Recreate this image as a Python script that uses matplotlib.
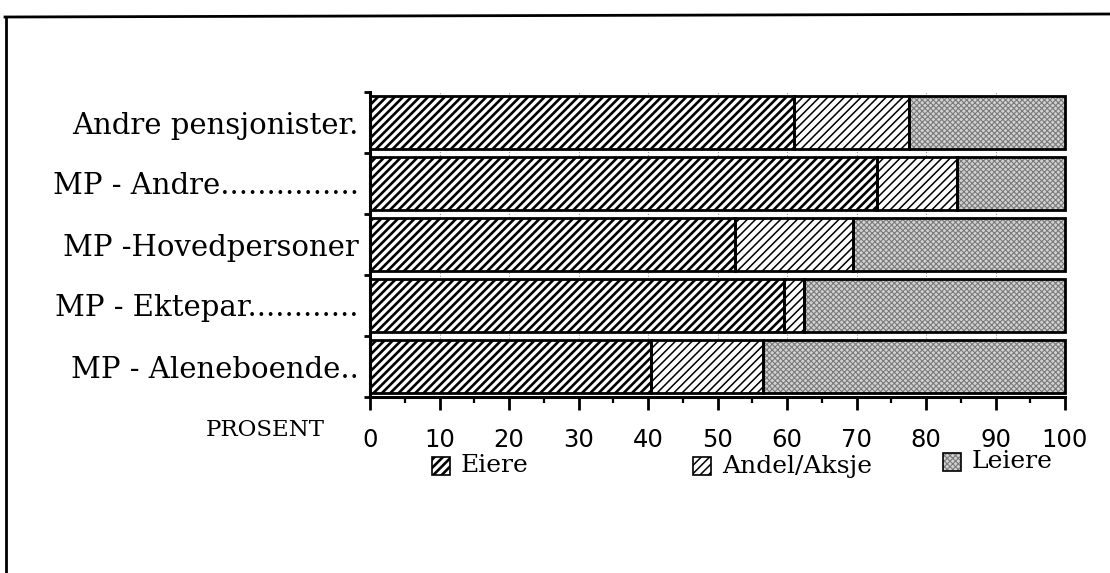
import matplotlib
matplotlib.use("Agg")
import matplotlib.pyplot as plt
from matplotlib.patches import Rectangle
from matplotlib.lines import Line2D

# data (percent), top to bottom
groups = ["Andre pensjonister.", "MP - Andre...............", "MP -Hovedpersoner",
          "MP - Ektepar............", "MP - Aleneboende.."]
eiere = [61, 73, 52.5, 59.5, 40.5]
andel = [16.5, 11.5, 17, 3, 16]
leiere = [22.5, 15.5, 30.5, 37.5, 43.5]
series_names = ["Eiere", "Andel/Aksje", "Leiere"]
xticks = [0, 10, 20, 30, 40, 50, 60, 70, 80, 90, 100]

serif = "DejaVu Serif"
W, H = 1110, 573

fig = plt.figure(figsize=(W / 100, H / 100), dpi=100)
ax = fig.add_axes([370 / W, 1 - 397 / H, 695 / W, 305 / H])

ypos = list(range(len(groups)))
bh = 0.86

# hatch, hatch linewidth, face colour, hatch colour
styles = [("////", 1.9, "white", "black"),
          ("////", 1.1, "white", "black"),
          ("xxxxxx", 0.8, "#d2d2d2", "#7a7a7a")]


def hatched_bars(left, width, style):
    hatch, hlw, face, hcolor = style
    with plt.rc_context({"hatch.linewidth": hlw}):
        bars = ax.barh(ypos, width, left=left, height=bh, color=face, edgecolor=hcolor,
                       hatch=hatch, linewidth=0, zorder=2, clip_on=False)
        for b in bars:
            if hasattr(b, "set_hatch_linewidth"):
                b.set_hatch_linewidth(hlw)
    # black outline on top
    ax.barh(ypos, width, left=left, height=bh, color="none", edgecolor="black",
            linewidth=2.0, zorder=3, clip_on=False)


left2 = [a + b for a, b in zip(eiere, andel)]
hatched_bars(0, eiere, styles[0])
hatched_bars(eiere, andel, styles[1])
hatched_bars(left2, leiere, styles[2])

ax.set_xlim(0, 100)
ax.set_ylim(len(groups) - 0.5, -0.5)

ax.set_xticks(xticks)
ax.set_xticks(range(5, 100, 10), minor=True)
ax.set_xticklabels([str(t) for t in xticks], fontsize=17.5, family="DejaVu Sans")
ax.tick_params(axis="x", which="major", direction="out", length=9, width=2, pad=13)
ax.tick_params(axis="x", which="minor", direction="out", length=4.5, width=1.6)

ax.set_yticks(ypos)
ax.set_yticklabels(groups, fontsize=21, family=serif)
ax.set_yticks([i - 0.5 for i in range(len(groups) + 1)], minor=True)
ax.tick_params(axis="y", which="major", length=0, pad=8)
ax.tick_params(axis="y", which="minor", direction="out", length=4, width=2)

ax.grid(axis="x", which="major", linestyle=":", color="#999999", linewidth=0.8, zorder=0)
ax.set_axisbelow(True)

for s in ["top", "right"]:
    ax.spines[s].set_visible(False)
for s in ["left", "bottom"]:
    ax.spines[s].set_linewidth(2.2)

fig.text(265 / W, 1 - 430 / H, "PROSENT", fontsize=16.5, family=serif,
         ha="center", va="center")

# legend drawn by hand
leg_pos = [(432, 466), (693, 466), (943, 462)]
for (px, py), style, name in zip(leg_pos, styles, series_names):
    hatch, hlw, face, hc = style
    with plt.rc_context({"hatch.linewidth": hlw}):
        r = Rectangle((px / W, 1 - (py + 9) / H), 18 / W, 18 / H, transform=fig.transFigure,
                      facecolor=face, edgecolor=hc, hatch=hatch, linewidth=0)
        if hasattr(r, "set_hatch_linewidth"):
            r.set_hatch_linewidth(hlw)
        fig.add_artist(r)
    fig.add_artist(Rectangle((px / W, 1 - (py + 9) / H), 18 / W, 18 / H,
                             transform=fig.transFigure, facecolor="none",
                             edgecolor="black", linewidth=1.2))
    fig.text((px + 29) / W, 1 - py / H, name, fontsize=18, family=serif,
             ha="left", va="center")

# outer frame (top and left edges)
fig.add_artist(Line2D([5 / W, 1], [1 - 17 / H, 1 - 14 / H], transform=fig.transFigure,
                      color="black", linewidth=2))
fig.add_artist(Line2D([6 / W, 6 / W], [0, 1 - 17 / H], transform=fig.transFigure,
                      color="black", linewidth=2))

fig.savefig("out.png", dpi=100)
